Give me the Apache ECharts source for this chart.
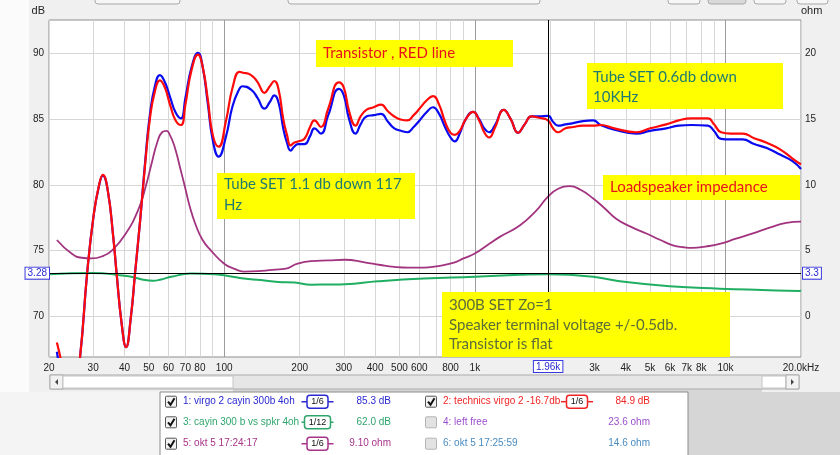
<!DOCTYPE html>
<html><head><meta charset="utf-8">
<script src="https://cdn.jsdelivr.net/npm/echarts@6/dist/echarts.min.js"></script>
<style>html,body{margin:0;padding:0;background:#f0f0f0;}#c{width:840px;height:455px;}</style>
</head><body><div id="c"></div>
<script>
// ---------- data ----------
const freq = [21.5,22.5,24.5,26.6,28.4,30.1,31.6,32.8,34.3,36.1,37.2,39.0,40.6,42.4,44.1,46.2,48.5,50.5,52.9,55.4,58.0,61.0,64.0,67.2,70.0,74.0,78.6,82.0,86.0,90.0,95.0,101.7,108,115,118,128,136,144.7,152,158.5,165,172,178,184,190,197,209,220,229,243,260,287,300,315,334,350,369,395,422,450,477,510,538,570,602,640,681,720,760,800,832,870,920,984,1040,1090,1140,1200,1304,1390,1487,1580,1682,1800,1958,2050,2148,2300,2467,2700,2966,3178,3600,4400,5000,5800,6500,7300,8500,9000,9600,10500,11700,13000,14600,16500,18500,20000];
const blueDb = [67.3,65.2,62.0,66.9,73.3,77.6,79.85,80.7,79.6,76.0,73.3,69.4,67.65,69.9,73.3,77.3,82.0,85.3,87.5,88.35,87.8,86.6,85.5,85.05,86.6,88.9,90.05,89.0,86.2,83.4,82.15,83.7,86.0,87.3,87.5,87.25,86.6,85.8,86.3,86.8,86.2,84.3,83.2,82.6,82.9,83.1,83.1,83.7,84.3,83.9,85.3,87.3,86.8,85.0,83.9,84.6,85.2,85.3,85.4,84.8,84.3,84.1,84.0,84.4,84.9,85.5,85.9,85.4,84.4,83.6,83.3,83.9,85.0,85.55,85.0,84.3,84.0,84.5,85.7,85.0,83.96,84.6,85.2,85.2,85.25,84.8,84.5,84.6,84.7,84.85,84.9,84.55,84.2,83.9,84.1,84.3,84.5,84.55,84.5,84.1,83.5,83.45,83.45,83.1,82.8,82.3,81.8,81.2];
const redDb = [68.0,66.3,62.0,66.9,73.3,77.6,79.9,80.75,79.6,76.0,73.3,69.4,67.65,69.9,73.3,77.3,81.8,85.0,87.1,87.95,87.4,86.0,84.9,84.55,86.1,88.7,89.9,89.0,86.5,83.8,82.9,84.9,87.4,88.6,88.55,88.35,87.8,87.0,87.5,87.9,87.2,85.0,83.8,83.0,83.2,83.3,83.5,84.4,84.9,84.4,85.8,87.8,87.4,85.6,84.5,85.2,85.7,85.9,86.1,85.6,85.2,84.95,84.9,85.3,85.8,86.4,86.75,86.1,84.8,83.95,83.8,84.1,85.0,85.55,84.9,84.0,83.6,84.3,85.7,85.0,83.96,84.6,85.2,85.1,84.9,84.3,84.0,84.3,84.4,84.5,84.5,84.55,84.3,84.0,84.3,84.6,84.9,85.05,85.05,84.6,84.0,83.9,83.9,83.55,83.2,82.7,82.0,81.55];
const impFreq = [21.5,24.6,27,29.6,33,35.6,40.2,45.4,48.5,51.3,54,56.5,58.8,61,63.4,66.5,69.7,73,76.6,82,88.6,100,110,119.6,141,160,174,196,222,260,303,363,420,477,540,626,700,819,900,999,1120,1257,1510,1750,1958,2150,2390,2650,2966,3300,3672,4200,4831,5500,6168,6800,7414,8300,9470,11000,12850,15000,17460,20000];
const impOhm = [5.8,4.77,4.45,4.4,4.6,5.0,6.2,8.1,9.8,11.6,13.2,14.0,14.1,13.7,12.9,11.4,9.85,8.3,7.06,5.8,5.0,4.0,3.6,3.4,3.45,3.55,3.6,4.0,4.2,4.25,4.3,4.1,3.9,3.76,3.7,3.7,3.8,4.06,4.4,4.77,5.4,6.04,6.9,8.0,9.1,9.7,9.9,9.6,8.96,8.2,7.4,6.8,6.3,5.8,5.4,5.25,5.2,5.3,5.5,5.9,6.3,6.75,7.1,7.2];
const greenFreq = [20,30,39,44,47,52,56,61.5,73.5,91.9,105,119.6,140,164,191,222,260,303,410,626,999,1510,1958,2390,2966,4019,5985,9470,14000,19700,20000];
const greenDb = [73.2,73.3,73.1,72.95,72.8,72.7,72.8,73.0,73.25,73.2,73.05,72.87,72.75,72.6,72.56,72.4,72.42,72.44,72.66,72.87,73.0,73.15,73.2,73.15,73.0,72.6,72.28,72.1,72.0,71.93,71.97];

const xLabelValues = [20,30,40,50,60,70,80,100,200,300,400,500,600,800,1000,3000,4000,5000,6000,7000,8000,10000,20000];
const xLabelText = ['20','30','40','50','60','70','80','100','200','300','400','500','600','800','1k','3k','4k','5k','6k','7k','8k','10k','20.0kHz'];
const xGridValues = [20,30,40,50,60,70,80,90,100,200,300,400,500,600,700,800,900,1000,2000,3000,4000,5000,6000,7000,8000,9000,10000,20000];
const dbTicks = [70,75,80,85,90];
const ohmTicks = [0,5,10,15,20];
const cursorFreq = 1960, cursorFreqText = '1.96k';
const cursorDb = 73.28, cursorDbText = '3.28';
const cursorOhm = 3.28, cursorOhmText = '3.3';

const legendNames = ['1: virgo 2 cayin 300b 4oh','2: technics virgo 2 -16.7db','3: cayin 300 b vs spkr 4oh','4: left free','5: okt 5 17:24:17','6: okt 5 17:25:59'];
const legendValues = ['85.3 dB','84.9 dB','62.0 dB','23.6 ohm','9.10 ohm','14.6 ohm'];
const legendSmoothing = ['1/6','1/6','1/12',null,'1/6',null];
const legendChecked = [true,true,true,false,true,false];
const legendColors = ['#2a2ad0','#f02424','#2fa56c','#9a50cc','#a8348a','#4a8cc0'];

const notes = [
  {box:[316,40,197,27], lines:['Transistor , RED line'], color:'#e8131b', x:323, y:[53.5]},
  {box:[587,63,196,46], lines:['Tube SET 0.6db down','10KHz'], color:'#1f7a72', x:593, y:[77,97]},
  {box:[217,173,198,46], lines:['Tube SET 1.1 db down 117','Hz'], color:'#1f7a72', x:224, y:[184.5,205]},
  {box:[603,175,197,25], lines:['Loadspeaker impedance'], color:'#e8131b', x:610, y:[187.5]},
  {box:[442,292,288,65], lines:['300B SET Zo=1','Speaker terminal voltage +/-0.5db.','Transistor is flat'], color:'#5a6d3a', x:449, y:[305,325,344.5]}
];

// ---------- chart ----------
const chart = echarts.init(document.getElementById('c'), null, {renderer:'canvas'});
const FONT = 'Liberation Sans';
const gridColors = xGridValues.map(v => (Math.abs(Math.log10(v) - Math.round(Math.log10(v))) < 1e-9 ? '#9c9c9c' : '#d6d6d6'));

const graphics = [];
graphics.push({type:'rect', shape:{x:0,y:0,width:29,height:392}, style:{fill:'#fbfbfb'}, silent:true});
[[95,85,'#f6f6f6'],[288,252,'#f6f6f6'],[668,32,'#f6f6f6'],[708,38,'#d9d9d9'],[754,32,'#f6f6f6'],[797,31,'#f6f6f6']].forEach(b=>{
  graphics.push({type:'rect', shape:{x:b[0],y:-10,width:b[1],height:14,r:3}, style:{fill:b[2],stroke:'#a8a8a8',lineWidth:1}, silent:true});
});
graphics.push({type:'rect', shape:{x:0,y:392,width:840,height:63}, style:{fill:'#f4f4f4'}, silent:true});
graphics.push({type:'rect', shape:{x:233,y:386,width:529,height:69}, style:{fill:'#d6d6d6'}, silent:true});
graphics.push({type:'rect', shape:{x:688,y:392,width:152,height:63}, style:{fill:'#d6d6d6'}, silent:true});
// scrollbar
graphics.push({type:'rect', shape:{x:50,y:375,width:749,height:14}, style:{fill:'#e6e6e6',stroke:'#ababab',lineWidth:1}, silent:true});
graphics.push({type:'rect', shape:{x:50,y:375,width:13,height:14}, style:{fill:'#f2f2f2',stroke:'#ababab',lineWidth:1}, silent:true});
graphics.push({type:'polygon', shape:{points:[[55,382],[58,379],[58,385]]}, style:{fill:'#444'}, silent:true});
graphics.push({type:'rect', shape:{x:63,y:376,width:170,height:12}, style:{fill:'#ffffff',stroke:'#c4c4c4',lineWidth:1}, silent:true});
graphics.push({type:'rect', shape:{x:762,y:376,width:24,height:12}, style:{fill:'#ffffff',stroke:'#c4c4c4',lineWidth:1}, silent:true});
graphics.push({type:'rect', shape:{x:786,y:375,width:13,height:14}, style:{fill:'#f2f2f2',stroke:'#ababab',lineWidth:1}, silent:true});
graphics.push({type:'polygon', shape:{points:[[794,382],[791,379],[791,385]]}, style:{fill:'#444'}, silent:true});
// legend box
graphics.push({type:'rect', shape:{x:160,y:392,width:528,height:70}, style:{fill:'#ffffff',stroke:'#8a8a8a',lineWidth:1}, silent:true});
const rowY = [401.7,422.3,443.7];
legendNames.forEach((name,i)=>{
  const col = i%2, row = Math.floor(i/2);
  const bx = col===0 ? 165 : 425;
  const cy = rowY[row];
  const c = legendColors[i];
  graphics.push({type:'rect', shape:{x:bx+0.5,y:cy-5.5,width:11,height:11,r:1}, style:{fill: legendChecked[i]?'#f2f2f2':'#e2e2e2', stroke: legendChecked[i]?'#555':'#b4b4b4', lineWidth:1}, silent:true});
  if (legendChecked[i]) {
    graphics.push({type:'polyline', shape:{points:[[bx+3,cy],[bx+5.5,cy+3],[bx+9.5,cy-3.5]]}, style:{stroke:'#111',lineWidth:2,fill:null}, silent:true});
  }
  graphics.push({type:'text', x:bx+18, y:cy, style:{text:name, fill:c, font:'10px "'+FONT+'"', textVerticalAlign:'middle'}, silent:true});
  if (legendSmoothing[i]) {
    const sc = col===0 ? 317.5 : 577;
    const w = legendSmoothing[i].length>3 ? 26 : 21;
    graphics.push({type:'line', shape:{x1:sc-16,y1:cy,x2:sc+16,y2:cy}, style:{stroke:c,lineWidth:1.5}, silent:true});
    graphics.push({type:'rect', shape:{x:sc-w/2,y:cy-6.5,width:w,height:13,r:3}, style:{fill:'#fff',stroke:c,lineWidth:1.5}, silent:true});
    graphics.push({type:'text', x:sc, y:cy, style:{text:legendSmoothing[i], fill:'#111', font:'9px "'+FONT+'"', textAlign:'center', textVerticalAlign:'middle'}, silent:true});
  }
  graphics.push({type:'text', x: col===0 ? 391 : 650, y:cy, style:{text:legendValues[i], fill:c, font:'10px "'+FONT+'"', textAlign:'right', textVerticalAlign:'middle'}, silent:true});
});
notes.forEach(n=>{
  graphics.push({type:'rect', z:100, shape:{x:n.box[0],y:n.box[1],width:n.box[2],height:n.box[3]}, style:{fill:'#ffff00'}, silent:true});
  n.lines.forEach((t,k)=>{
    graphics.push({type:'text', z:101, x:n.x, y:n.y[k], style:{text:t, fill:n.color, font:'15px Lato', textVerticalAlign:'middle'}, silent:true});
  });
});

const cursorLabel = {show:true, color:'#2a2ad0', fontFamily:FONT, fontSize:10, backgroundColor:'#fff', borderColor:'#3a3ae0', borderWidth:1, padding:[1,2,0,2]};
const option = {
  animation:false,
  backgroundColor:'#f0f0f0',
  grid:{left:49, top:20, width:752, height:337, show:true, backgroundColor:'#ffffff', borderColor:'#8e8e8e', borderWidth:1, containLabel:false},
  xAxis:{
    type:'log', logBase:10, min:20, max:20000,
    axisLine:{show:false}, axisTick:{show:false, customValues:xGridValues},
    splitLine:{show:true, lineStyle:{color:gridColors, width:1}},
    axisLabel:{customValues:xLabelValues, color:'#222', fontFamily:FONT, fontSize:10, margin:6,
      formatter:(v)=>{const i = xLabelValues.findIndex(x=>Math.abs(x-v)<1e-6*v); return i>=0?xLabelText[i]:'';}}
  },
  yAxis:[
    {type:'value', min:66.9, max:92.54, position:'left',
      name:'dB', nameLocation:'end', nameGap:4, nameTextStyle:{color:'#222', fontFamily:FONT, fontSize:11, align:'right', padding:[0,4,0,0]},
      axisLine:{show:false}, axisTick:{show:false, customValues:dbTicks},
      axisLabel:{customValues:dbTicks, color:'#222', fontFamily:FONT, fontSize:10, margin:5},
      splitLine:{show:true, lineStyle:{color:'#d6d6d6'}}},
    {type:'value', min:-3.1, max:22.54, position:'right',
      name:'ohm', nameLocation:'end', nameGap:4, nameTextStyle:{color:'#222', fontFamily:FONT, fontSize:11, align:'left', padding:[0,0,0,0]},
      axisLine:{show:false}, axisTick:{show:false, customValues:ohmTicks},
      axisLabel:{customValues:ohmTicks, color:'#222', fontFamily:FONT, fontSize:10, margin:4},
      splitLine:{show:false}}
  ],
  series:[
    {name:'1: virgo 2 cayin 300b 4oh', type:'line', data:freq.map((f,i)=>[f,blueDb[i]]), showSymbol:false, smooth:0.5,
      lineStyle:{color:'#0a0af0', width:2.2}, itemStyle:{color:'#0a0af0'}, z:3,
      markLine:{silent:true, symbol:'none', animation:false,
        lineStyle:{color:'#000', width:1, type:'solid'},
        label:Object.assign({position:'start', formatter:cursorFreqText, distance:4}, cursorLabel),
        data:[{xAxis:cursorFreq}]}},
    {name:'2: technics virgo 2 -16.7db', type:'line', data:freq.map((f,i)=>[f,redDb[i]]), showSymbol:false, smooth:0.5,
      lineStyle:{color:'#ff0a0a', width:2.2}, itemStyle:{color:'#ff0a0a'}, z:4},
    {name:'3: cayin 300 b vs spkr 4oh', type:'line', data:greenFreq.map((f,i)=>[f,greenDb[i]]), showSymbol:false, smooth:0.5,
      lineStyle:{color:'#1fae62', width:2}, itemStyle:{color:'#1fae62'}, z:3,
      markLine:{silent:true, symbol:'none', animation:false,
        lineStyle:{color:'#000', width:1, type:'solid'},
        label:Object.assign({position:'start', formatter:cursorDbText, distance:0}, cursorLabel),
        data:[{yAxis:cursorDb}]}},
    {name:'5: okt 5 17:24:17', type:'line', yAxisIndex:1, data:impFreq.map((f,i)=>[f,impOhm[i]]), showSymbol:false, smooth:0.5,
      lineStyle:{color:'#a2347f', width:1.8}, itemStyle:{color:'#a2347f'}, z:3,
      markLine:{silent:true, symbol:'none', animation:false,
        lineStyle:{color:'rgba(0,0,0,0)', width:1, type:'solid'},
        label:Object.assign({position:'end', formatter:cursorOhmText, distance:2}, cursorLabel),
        data:[{yAxis:cursorOhm}]}}
  ],
  graphic:{elements:graphics}
};
chart.setOption(option);
</script></body></html>
